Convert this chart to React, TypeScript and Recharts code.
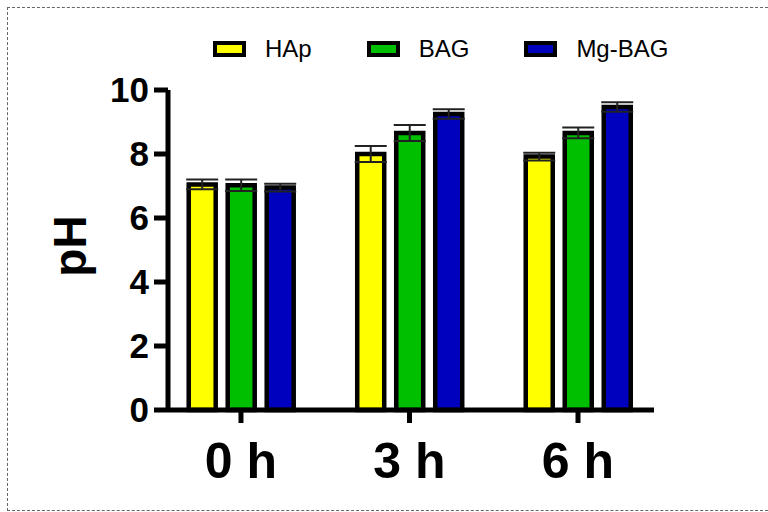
import React from 'react'
import { Bar, BarChart, ErrorBar, XAxis, YAxis } from 'recharts'

const timepoints = ['0 h', '3 h', '6 h']
const hapMean = [7.05, 8.0, 7.92]
const hapErr = [0.15, 0.25, 0.12]
const bagMean = [7.02, 8.66, 8.66]
const bagErr = [0.18, 0.25, 0.17]
const mgBagMean = [6.95, 9.25, 9.47]
const mgBagErr = [0.12, 0.15, 0.15]
const yTicks = [0, 2, 4, 6, 8, 10]

const series = [
  { key: 'hap', name: 'HAp', color: '#FFFF00' },
  { key: 'bag', name: 'BAG', color: '#00BF00' },
  { key: 'mgBag', name: 'Mg-BAG', color: '#0000BF' },
]

// numeric x so the group centres can sit inside the axis like the GraphPad original
const data = timepoints.map((label, i) => ({
  t: i,
  label,
  hap: hapMean[i],
  hapErr: hapErr[i],
  bag: bagMean[i],
  bagErr: bagErr[i],
  mgBag: mgBagMean[i],
  mgBagErr: mgBagErr[i],
}))

const FONT = 'Arial, "Liberation Sans", sans-serif'

function LegendRow() {
  return (
    <div
      style={{
        position: 'absolute',
        left: 213,
        top: 35,
        display: 'flex',
        alignItems: 'center',
        fontFamily: FONT,
        fontSize: 24,
        lineHeight: '28px',
        color: '#000',
      }}
    >
      {series.map((s) => (
        <div key={s.key} style={{ display: 'flex', alignItems: 'center', marginRight: 55 }}>
          <div
            style={{
              width: 33,
              height: 16,
              boxSizing: 'border-box',
              border: '4px solid #000',
              background: s.color,
              marginRight: 19,
            }}
          />
          <span>{s.name}</span>
        </div>
      ))}
    </div>
  )
}

function PhLabel(props: any) {
  const vb = props.viewBox || {}
  const cx = (vb.x || 0) + 70
  const cy = (vb.y || 0) + (vb.height || 0) / 2 - 4
  return (
    <text
      x={cx}
      y={cy}
      transform={`rotate(-90, ${cx}, ${cy})`}
      textAnchor="middle"
      dominantBaseline="central"
      fontFamily={FONT}
      fontWeight="bold"
      fontSize={46}
      fill="#000"
    >
      pH
    </text>
  )
}

export default function App() {
  return (
    <div style={{ position: 'relative', width: 768, height: 512, background: '#fff' }}>
      <style>{'body{margin:0}'}</style>
      <div
        style={{
          position: 'absolute',
          left: 7,
          top: 7,
          width: 780,
          height: 502,
          borderTop: '1px dashed #666',
          borderLeft: '1px dashed #666',
          borderBottom: '1px dashed #666',
        }}
      />
      <BarChart
        width={768}
        height={512}
        data={data}
        margin={{ top: 90, right: 114, bottom: 0, left: 0 }}
        barSize={27}
        barGap={12}
        style={{ position: 'absolute', left: 0, top: 0 }}
      >
        <XAxis
          dataKey="t"
          type="number"
          domain={[-0.433, 2.451]}
          allowDataOverflow
          ticks={[0, 1, 2]}
          tickFormatter={(v) => timepoints[v] ?? ''}
          height={102}
          axisLine={{ stroke: '#000', strokeWidth: 5 }}
          tickLine={{ stroke: '#000', strokeWidth: 5 }}
          tickSize={13}
          tickMargin={19}
          tick={{ fontFamily: FONT, fontWeight: 'bold', fontSize: 50, fill: '#000' }}
        />
        <YAxis
          type="number"
          domain={[0, 10]}
          ticks={yTicks}
          width={168}
          axisLine={{ stroke: '#000', strokeWidth: 5 }}
          tickLine={{ stroke: '#000', strokeWidth: 5 }}
          tickSize={14}
          tickMargin={5}
          tick={{ fontFamily: FONT, fontWeight: 'bold', fontSize: 35, fill: '#000' }}
          label={<PhLabel />}
        />
        {series.map((s) => (
          <Bar
            key={s.key}
            dataKey={s.key}
            name={s.name}
            fill={s.color}
            stroke="#000"
            strokeWidth={4.5}
            isAnimationActive={false}
          >
            <ErrorBar
              dataKey={`${s.key}Err`}
              direction="y"
              width={16}
              stroke="#222"
              strokeWidth={2}
              isAnimationActive={false}
            />
          </Bar>
        ))}
      </BarChart>
      <LegendRow />
    </div>
  )
}
